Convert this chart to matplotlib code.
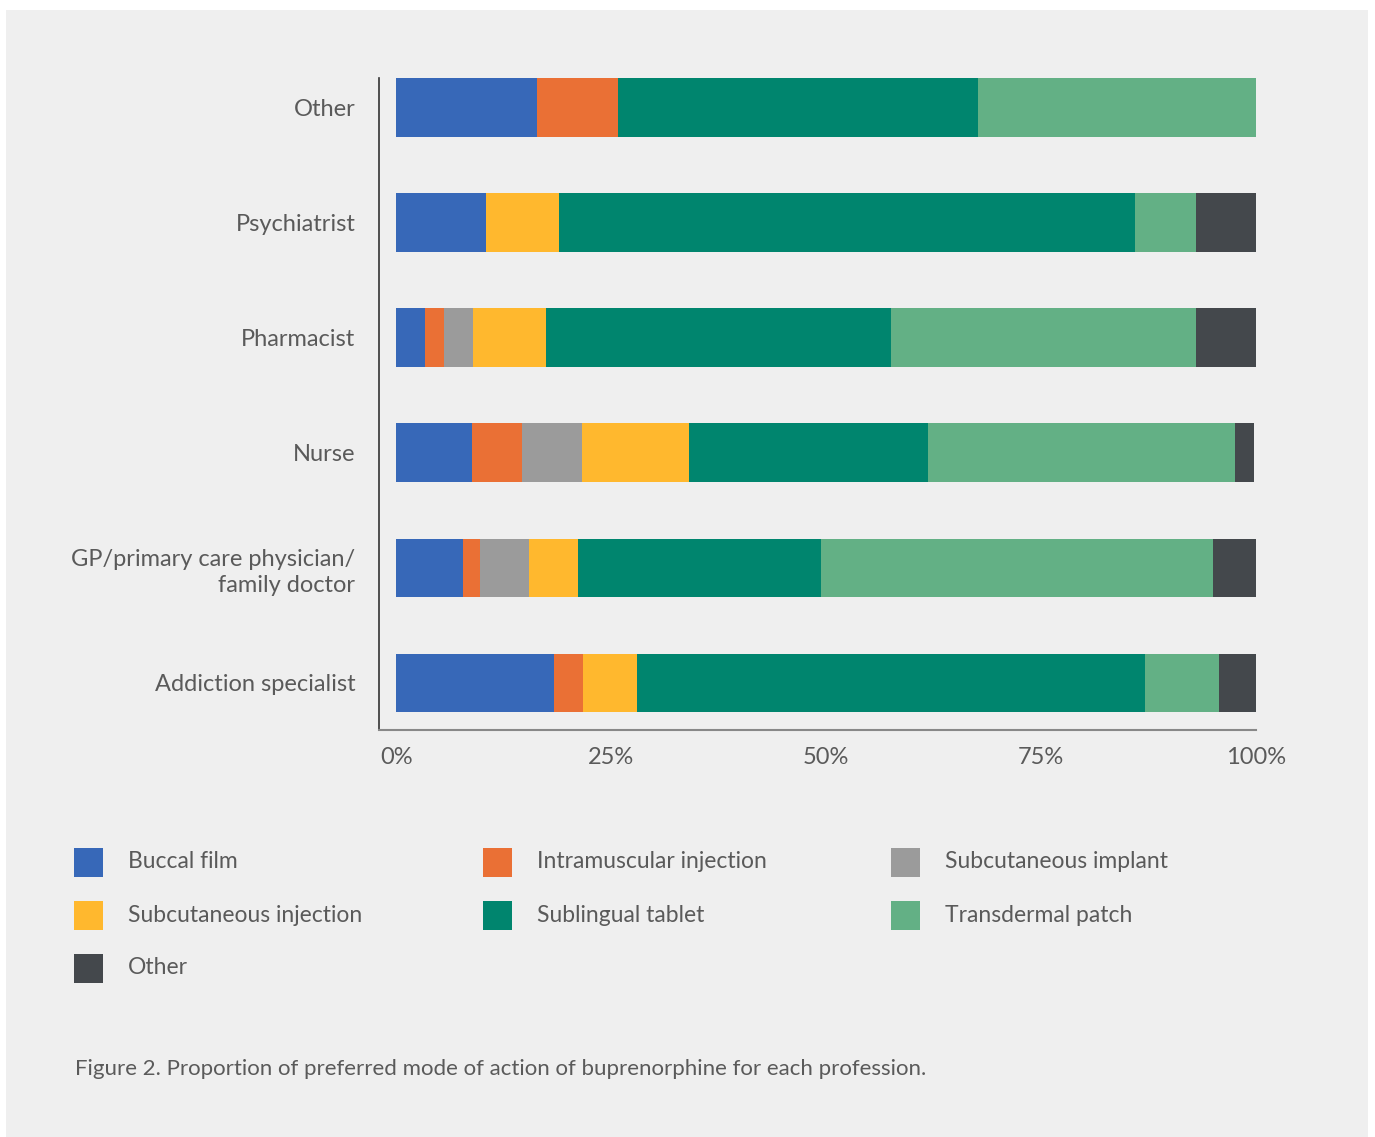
import numpy as np
import matplotlib.pyplot as plt
from matplotlib.patches import Rectangle

# professions, bottom to top
professions = ["Addiction specialist", "GP/primary care physician/\nfamily doctor",
               "Nurse", "Pharmacist", "Psychiatrist", "Other"]

modes = ["Buccal film", "Intramuscular injection", "Subcutaneous implant",
         "Subcutaneous injection", "Sublingual tablet", "Transdermal patch", "Other"]

colors = ["#3768b8", "#ea7035", "#9b9b9b", "#ffb82e", "#00856e", "#63b085", "#44484c"]

# percentage share of each mode, same order as professions
buccal        = [18.3, 7.8, 8.8, 3.3, 10.5, 16.4]
intramuscular = [3.4, 1.9, 5.8, 2.3, 0.0, 9.4]
implant       = [0.0, 5.7, 7.0, 3.3, 0.0, 0.0]
subcut_inj    = [6.3, 5.7, 12.4, 8.5, 8.4, 0.0]
sublingual    = [59.1, 28.3, 27.8, 40.1, 67.0, 41.9]
transdermal   = [8.6, 45.6, 35.7, 35.5, 7.1, 32.3]
other         = [4.3, 5.0, 2.3, 7.1, 7.1, 0.0]

series = [buccal, intramuscular, implant, subcut_inj, sublingual, transdermal, other]
ticks = [0, 25, 50, 75, 100]
tick_labels = ["0%", "25%", "50%", "75%", "100%"]

txt = "#5a5a5a"
bg = "#efefef"
plt.rcParams['font.family'] = ['Lato', 'DejaVu Sans']

fig = plt.figure(figsize=(13.75, 11.37), dpi=100)
fig.patch.set_facecolor("white")
# grey panel behind everything
fig.patches.append(Rectangle((6/1375, 0), 1362/1375, 1 - 10/1137,
                             transform=fig.transFigure, facecolor=bg,
                             edgecolor="none", zorder=-1))

ax = fig.add_axes([379/1375, 1 - 730/1137, (1256 - 379)/1375, (730 - 78)/1137])
ax.set_facecolor(bg)

y = np.arange(len(professions))
left = np.zeros(len(professions))
for vals, c, name in zip(series, colors, modes):
    ax.barh(y, vals, left=left, height=0.51, color=c, label=name)
    left += np.array(vals)

ax.set_xlim(-2, 100)
ax.set_ylim(-0.409, len(professions) - 1 + 0.2565)
ax.set_yticks(y)
ax.set_yticklabels(professions, fontsize=17, color=txt, linespacing=1.3)
ax.set_xticks(ticks)
ax.set_xticklabels(tick_labels, fontsize=17, color=txt)
ax.tick_params(axis="y", length=0, pad=17)
ax.tick_params(axis="x", length=0, pad=12)
for s in ["top", "right"]:
    ax.spines[s].set_visible(False)
ax.spines["left"].set_color("#333333")
ax.spines["bottom"].set_color("#888888")
ax.spines["left"].set_linewidth(1.2)
ax.spines["bottom"].set_linewidth(1.5)
for lab in ax.get_yticklabels():
    lab.set_horizontalalignment("right")
    lab.set_y(lab.get_position()[1])

# legend drawn as three columns of swatches
col_x = [74, 483, 891]
row_y = [862, 915, 968]
for i, (name, c) in enumerate(zip(modes, colors)):
    cx = col_x[i % 3]
    cy = row_y[i // 3]
    fig.patches.append(Rectangle((cx/1375, 1 - (cy + 14.5)/1137), 29/1375, 29/1137,
                                 transform=fig.transFigure, facecolor=c,
                                 edgecolor="none"))
    fig.text((cx + 54)/1375, 1 - cy/1137, name, fontsize=16.5, color=txt,
             va="center", ha="left")

fig.text(75/1375, 1 - 1069/1137,
         "Figure 2. Proportion of preferred mode of action of buprenorphine for each profession.",
         fontsize=16, color=txt, va="center", ha="left")

fig.savefig("out.png", dpi=100, facecolor=fig.get_facecolor())
